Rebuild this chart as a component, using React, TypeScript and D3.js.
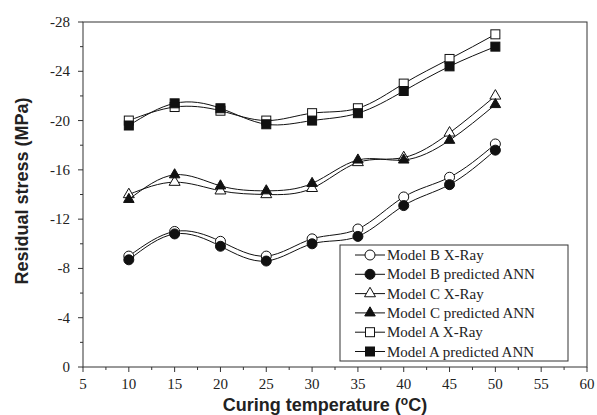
import React from 'react';
import * as d3 from 'd3';

const temps = [10, 15, 20, 25, 30, 35, 40, 45, 50];
const bXray = [-9.0, -11.0, -10.2, -9.0, -10.4, -11.2, -13.8, -15.4, -18.1];
const bAnn = [-8.7, -10.8, -9.8, -8.6, -10.0, -10.6, -13.1, -14.8, -17.6];
const cXray = [-14.0, -15.0, -14.3, -14.0, -14.5, -16.6, -17.0, -19.0, -22.0];
const cAnn = [-13.6, -15.6, -14.7, -14.3, -14.9, -16.8, -16.8, -18.4, -21.3];
const aXray = [-20.0, -21.1, -20.8, -20.0, -20.6, -21.0, -23.0, -25.0, -27.0];
const aAnn = [-19.6, -21.4, -21.0, -19.7, -20.0, -20.6, -22.4, -24.4, -26.0];

const series = [
  { name: 'Model B X-Ray', values: bXray, shape: 'circle', filled: false },
  { name: 'Model B predicted ANN', values: bAnn, shape: 'circle', filled: true },
  { name: 'Model C X-Ray', values: cXray, shape: 'triangle', filled: false },
  { name: 'Model C predicted ANN', values: cAnn, shape: 'triangle', filled: true },
  { name: 'Model A X-Ray', values: aXray, shape: 'square', filled: false },
  { name: 'Model A predicted ANN', values: aAnn, shape: 'square', filled: true },
];

const xTicks = [5, 10, 15, 20, 25, 30, 35, 40, 45, 50, 55, 60];
const yTicks = [0, -4, -8, -12, -16, -20, -24, -28];

const W = 597, H = 415;
const m = { left: 83, right: 10, top: 22, bottom: 48 };

function Marker({ shape, filled, x, y }: { shape: string; filled: boolean; x: number; y: number }) {
  const fill = filled ? '#111' : '#fff';
  if (shape === 'circle') return <circle cx={x} cy={y} r={5} fill={fill} stroke="#111" strokeWidth={1} />;
  if (shape === 'square') return <rect x={x - 4.5} y={y - 4.5} width={9} height={9} fill={fill} stroke="#111" strokeWidth={1} />;
  const sym = d3.symbol().type(d3.symbolTriangle).size(filled ? 48 : 52)();
  return <path d={sym ?? ''} transform={`translate(${x},${y})`} fill={fill} stroke="#111" strokeWidth={1} />;
}

export default function App() {
  const x = d3.scaleLinear().domain([5, 60]).range([m.left, W - m.right]);
  const y = d3.scaleLinear().domain([0, -28]).range([H - m.bottom, m.top]);
  const line = d3.line<number>()
    .x((_, i) => x(temps[i]))
    .y(d => y(d))
    .curve(d3.curveNatural);

  const x0 = x.range()[0], x1 = x.range()[1];
  const y0 = y.range()[0], y1 = y.range()[1];
  const xMinor = d3.range(7.5, 60, 5);
  const yMinor = d3.range(-2, -28, -4);

  const lg = { x: 340, y: 245, w: 228, h: 116, row: 19.3 };

  return (
    <svg width={W} height={H} style={{ position: 'absolute', left: 0, top: 0, background: '#fff' }}>
      <rect x={x0} y={y1} width={x1 - x0} height={y0 - y1} fill="none" stroke="#333" strokeWidth={1} />
      {/* x ticks */}
      {xTicks.map(t => (
        <g key={'xt' + t}>
          <line x1={x(t)} x2={x(t)} y1={y0} y2={y0 + 5} stroke="#333" />
          <text x={x(t)} y={y0 + 22} textAnchor="middle" fontFamily="Liberation Serif" fontSize={15} fill="#222">{t}</text>
        </g>
      ))}
      {xMinor.map(t => <line key={'xm' + t} x1={x(t)} x2={x(t)} y1={y0} y2={y0 + 3} stroke="#333" />)}
      {/* y ticks */}
      {yTicks.map(t => (
        <g key={'yt' + t}>
          <line x1={x0 - 5} x2={x0} y1={y(t)} y2={y(t)} stroke="#333" />
          <text x={x0 - 13} y={y(t) + 5} textAnchor="end" fontFamily="Liberation Serif" fontSize={15} fill="#222">{t}</text>
        </g>
      ))}
      {yMinor.map(t => <line key={'ym' + t} x1={x0 - 3} x2={x0} y1={y(t)} y2={y(t)} stroke="#333" />)}

      {series.map(s => (
        <g key={s.name}>
          <path d={line(s.values) ?? ''} fill="none" stroke="#111" strokeWidth={1} />
          {s.values.map((v, i) => <Marker key={i} shape={s.shape} filled={s.filled} x={x(temps[i])} y={y(v)} />)}
        </g>
      ))}

      {/* legend */}
      <rect x={lg.x} y={lg.y} width={lg.w} height={lg.h} fill="#fff" stroke="#333" strokeWidth={1} />
      {series.map((s, i) => {
        const cy = lg.y + 10 + i * lg.row;
        return (
          <g key={'lg' + s.name}>
            <line x1={lg.x + 15} x2={lg.x + 45} y1={cy} y2={cy} stroke="#111" />
            <Marker shape={s.shape} filled={s.filled} x={lg.x + 30} y={cy} />
            <text x={lg.x + 47} y={cy + 5} fontFamily="Liberation Serif" fontSize={15} fill="#222">{s.name}</text>
          </g>
        );
      })}

      <text transform={`translate(28,191) rotate(-90)`} textAnchor="middle" fontFamily="Liberation Sans" fontWeight="bold" fontSize={18} fill="#222">Residual stress (MPa)</text>
      <text x={325} y={411} textAnchor="middle" fontFamily="Liberation Sans" fontWeight="bold" fontSize={18} fill="#222">
        Curing temperature (<tspan fontSize={12} dy={-6}>o</tspan><tspan dy={6}>C)</tspan>
      </text>
    </svg>
  );
}
